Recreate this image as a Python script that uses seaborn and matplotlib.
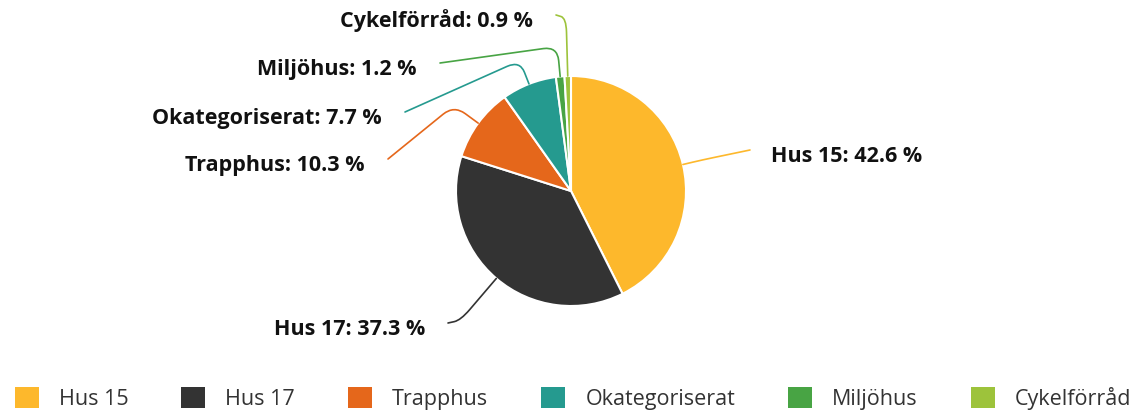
import numpy as np
import matplotlib.pyplot as plt
import seaborn as sns
from matplotlib.path import Path
from matplotlib.patches import PathPatch, Patch

# -----------------------------
# Data
# -----------------------------
categories = ["Hus 15", "Hus 17", "Trapphus", "Okategoriserat", "Miljöhus", "Cykelförråd"]
shares = [42.6, 37.3, 10.3, 7.7, 1.2, 0.9]
colors = ["#FDB82C", "#333333", "#E5671B", "#259A8F", "#48A444", "#9DC33B"]

# label layout (pixel coords, y down): where each connector ends, and its radial reach
label_ends = [(750, 150), (448, 323), (388, 159), (405, 112), (440, 63), (556, 15)]
radial_reach = [20, 55, 30, 25, 30, 58]

W, H = 1138, 416

sns.set_theme(style="white")
plt.rcParams['font.family'] = ['Open Sans', 'DejaVu Sans']

fig = plt.figure(figsize=(W / 100, H / 100), dpi=100)
ax = fig.add_axes([0, 0, 1, 1])

palette = sns.color_palette(colors)
wedges, _ = ax.pie(shares, colors=palette, startangle=90, counterclock=False,
                   center=(571, H - 191), radius=115,
                   wedgeprops=dict(edgecolor="white", linewidth=1.5))
ax.set_xlim(0, W)
ax.set_ylim(0, H)
ax.set_aspect("equal")
ax.axis("off")


def rounded_path(a, b, c, rr=14):
    a, b, c = map(np.asarray, (a, b, c))
    ab = a - b
    cb = c - b
    la, lc = np.linalg.norm(ab), np.linalg.norm(cb)
    b1 = b + ab / la * min(rr, la / 2)
    b2 = b + cb / lc * min(rr, lc / 2)
    verts = [a, b1, b, b2, c]
    codes = [Path.MOVETO, Path.LINETO, Path.CURVE3, Path.CURVE3, Path.LINETO]
    return Path(verts, codes)


# -----------------------------
# Connectors and data labels
# -----------------------------
for w, cat, val, col, (ex, ey), d in zip(wedges, categories, shares, palette,
                                          label_ends, radial_reach):
    theta = np.deg2rad((w.theta1 + w.theta2) / 2)
    cx, cy = w.center
    r = w.r
    p0 = (cx + r * np.cos(theta), cy + r * np.sin(theta))
    p1 = (cx + (r + d) * np.cos(theta), cy + (r + d) * np.sin(theta))
    end = (ex, H - ey)
    ax.add_patch(PathPatch(rounded_path(p0, p1, end), facecolor="none",
                           edgecolor=col, linewidth=1.2, capstyle="round"))
    right = ex > cx
    ax.text(ex + (21 if right else -23), H - ey - 12, f"{cat}: {val:.1f} %",
            ha="left" if right else "right", va="baseline",
            fontsize=15.5, fontweight="bold", color="#111111")

# -----------------------------
# Legend
# -----------------------------
fs = 15.5
px = fs * 100 / 72
handles = [Patch(facecolor=c, edgecolor="none", label=cat)
           for cat, c in zip(categories, palette)]
fig.legend(handles=handles, loc="lower center", bbox_to_anchor=(573 / W, 6 / H),
           ncol=6, frameon=False, fontsize=fs, labelcolor="#333333",
           handlelength=24 / px, handleheight=24 / px,
           handletextpad=20 / px, columnspacing=53 / px,
           borderaxespad=0, borderpad=0)

fig.savefig("out.png", dpi=100)
